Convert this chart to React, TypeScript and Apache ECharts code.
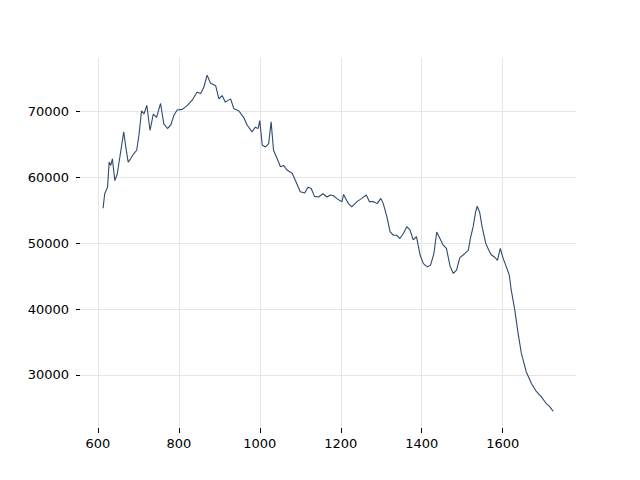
import React, { useEffect, useRef } from "react";
import * as echarts from "echarts";

const xValues: number[] = [
  613, 617, 624, 628, 632, 636, 642, 648, 657, 664, 669, 675, 681, 689, 696, 702, 708, 714, 721, 729,
  737, 745, 755, 763, 772, 780, 788, 796, 809, 821, 833, 845, 854, 862, 870, 878, 891, 899, 907, 915,
  928, 936, 948, 960, 969, 981, 989, 996, 1000, 1006, 1014, 1022, 1028, 1034, 1043, 1051, 1059, 1067,
  1080, 1088, 1100, 1111, 1119, 1127, 1135, 1145, 1156, 1166, 1174, 1182, 1190, 1197, 1203, 1207, 1211,
  1219, 1227, 1240, 1252, 1263, 1271, 1281, 1290, 1299, 1305, 1314, 1322, 1330, 1338, 1346, 1355, 1363,
  1371, 1379, 1387, 1396, 1404, 1414, 1422, 1430, 1437, 1445, 1453, 1461, 1470, 1478, 1486, 1494, 1506,
  1515, 1520, 1527, 1533, 1537, 1543, 1549, 1558, 1566, 1572, 1580, 1587, 1594, 1601, 1609, 1616, 1621,
  1630, 1638, 1646, 1658, 1671, 1683, 1695, 1707, 1716, 1722, 1725,
];

const yValues: number[] = [
  55300, 57500, 58500, 62300, 61800, 62800, 59500, 60500, 64100, 66900, 64600, 62300, 62800, 63600, 64100,
  66600, 70100, 69600, 70900, 67100, 69600, 69100, 71200, 68100, 67400, 67900, 69400, 70200, 70300, 70900,
  71700, 72900, 72700, 73700, 75500, 74300, 73900, 71900, 72400, 71400, 71900, 70400, 70100, 69100, 67900,
  66900, 67600, 67400, 68600, 64900, 64600, 65100, 68400, 64100, 62800, 61600, 61800, 61100, 60600, 59500,
  57800, 57600, 58500, 58300, 57100, 57000, 57500, 57000, 57300, 57200, 56800, 56500, 56300, 57400, 56900,
  56000, 55500, 56300, 56800, 57300, 56300, 56300, 56000, 56800, 56000, 54000, 51700, 51200, 51200, 50700,
  51500, 52500, 52000, 50500, 51000, 48200, 46900, 46400, 46700, 48400, 51700, 50700, 49700, 49200, 46500,
  45400, 45900, 47800, 48400, 48900, 50700, 52500, 54700, 55600, 54700, 52500, 50000, 48900, 48200, 47900,
  47400, 49200, 47700, 46400, 45200, 42900, 39800, 36300, 33300, 30500, 28700, 27500, 26700, 25700, 25200,
  24700, 24500,
];

const xTicks: number[] = [600, 800, 1000, 1200, 1400, 1600];
const yTicks: number[] = [30000, 40000, 50000, 60000, 70000];

export default function App() {
  const ref = useRef<HTMLDivElement>(null);
  useEffect(() => {
    if (!ref.current) return;
    const chart = echarts.init(ref.current, null, { renderer: "svg" });
    const font = "DejaVu Sans";
    chart.setOption({
      animation: false,
      backgroundColor: "#ffffff",
      grid: { left: 80, right: 64, top: 58, bottom: 52, containLabel: false },
      xAxis: {
        type: "value",
        min: 556,
        max: 1781,
        axisLine: { show: false },
        axisTick: {
          show: true,
          length: 5,
          lineStyle: { color: "#000000", width: 1 },
          customValues: xTicks,
        },
        axisLabel: {
          customValues: xTicks,
          formatter: (v: number) => String(v),
          margin: 9,
          color: "#000000",
          fontFamily: font,
          fontSize: 13,
        },
        splitLine: { show: true, lineStyle: { color: "#e6e6e6", width: 1 } },
      },
      yAxis: {
        type: "value",
        min: 21950,
        max: 78100,
        axisLine: { show: false },
        axisTick: {
          show: true,
          length: 4,
          lineStyle: { color: "#000000", width: 1 },
          customValues: yTicks,
        },
        axisLabel: {
          customValues: yTicks,
          formatter: (v: number) => String(v),
          margin: 11,
          color: "#000000",
          fontFamily: font,
          fontSize: 13,
        },
        splitLine: { show: true, lineStyle: { color: "#e6e6e6", width: 1 } },
      },
      series: [
        {
          type: "line",
          data: xValues.map((x, i) => [x, yValues[i]]),
          showSymbol: false,
          symbol: "none",
          lineStyle: { color: "#2e4a6e", width: 1.1 },
        },
      ],
    });
    return () => chart.dispose();
  }, []);
  return (
    <div
      ref={ref}
      style={{ position: "fixed", left: 0, top: 0, width: 640, height: 480 }}
    />
  );
}
